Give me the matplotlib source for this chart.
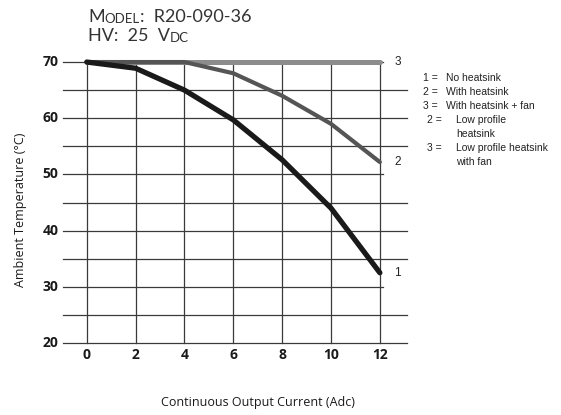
import matplotlib
matplotlib.use("Agg")
import matplotlib.pyplot as plt

# --- Derating data ---
current = [0, 2, 4, 6, 8, 10, 12]                      # Adc
no_heatsink = [70, 68.9, 65.0, 59.7, 52.6, 44.0, 32.5]  # curve 1
with_heatsink = [70, 70, 70, 68.0, 64.0, 59.0, 52.2]     # curve 2
heatsink_fan = [70, 70, 70, 70, 70, 70, 70]              # curve 3

curves = [heatsink_fan, with_heatsink, no_heatsink]
curve_ids = ["3", "2", "1"]
curve_colors = ["#8c8c8c", "#555555", "#1a1a1a"]
curve_widths = [3.6, 3.0, 3.8]

y_ticks = [20, 30, 40, 50, 60, 70]
grid_y = [20, 25, 30, 35, 40, 45, 50, 55, 60, 65, 70]
legend_lines = [("1 =", "No heatsink"), ("2 =", "With heatsink"),
                ("3 =", "With heatsink + fan")]
legend_extra = [("2 =", ["Low profile", "heatsink"]),
                ("3 =", ["Low profile heatsink", "with fan"])]

plt.rcParams["font.family"] = ["Open Sans", "DejaVu Sans"]

fig = plt.figure(figsize=(5.61, 4.15), dpi=100)
ax = fig.add_axes([0.112, 0.1735, 0.613, 0.677])
ax.set_xlim(-0.98, 13.1)
ax.set_ylim(20, 70)
ax.axis("off")

# grid: horizontal rules, shortened where a curve label sits
for y in grid_y:
    right = 12.12 if y in (70, 50, 30) else 13.1
    ax.plot([-0.98, right], [y, y], color="#3a3a3a", lw=0.9, clip_on=False, zorder=1)
for x in current:
    ax.plot([x, x], [20, 70], color="#3a3a3a", lw=0.9, clip_on=False, zorder=1)

for vals, cid, col, lw in zip(curves, curve_ids, curve_colors, curve_widths):
    ax.plot(current, vals, color=col, lw=lw, solid_capstyle="round",
            solid_joinstyle="round", clip_on=False, zorder=3)
    ax.text(12.6, vals[-1], cid, fontsize=8.5, color="#222222",
            family="Liberation Sans", va="center", ha="left")

# tick labels
for y in y_ticks:
    ax.text(-1.15, y, str(y), ha="right", va="center", fontsize=10,
            fontweight="bold", color="#1a1a1a")
for x in current:
    ax.text(x, 17.9, str(x), ha="center", va="center", fontsize=10,
            fontweight="bold", color="#1a1a1a")

fig.text(0.036, 0.495, "Ambient Temperature (°C)", rotation=90,
         ha="center", va="center", fontsize=9, color="#1a1a1a")
fig.text(0.46, 0.03, "Continuous Output Current (Adc)", ha="center",
         va="center", fontsize=9, color="#1a1a1a")

# header with small caps
def small_caps(x, y, parts):
    prev = None
    for txt, size in parts:
        if prev is None:
            prev = fig.text(x, y, txt, fontsize=size, color="#333333",
                            family="Lato", va="bottom")
        else:
            prev = ax.annotate(txt, xy=(1, 0), xycoords=prev, fontsize=size,
                               color="#333333", family="Lato", va="bottom",
                               annotation_clip=False)

small_caps(88 / 561, 0.94, [("M", 13), ("ODEL", 9.5), (":  R20-090-36", 13)])
small_caps(88 / 561, 0.894, [("HV:  25  V", 13), ("DC", 9.5)])

# legend notes
leg_font = dict(fontsize=7.5, family="Liberation Sans", color="#222222", va="center")
y0 = 1 - 78 / 415
dy = 14 / 415
for i, (num, label) in enumerate(legend_lines):
    fig.text(423 / 561, y0 - i * dy, num, **leg_font)
    fig.text(446 / 561, y0 - i * dy, label, **leg_font)
row = 3
for num, label_rows in legend_extra:
    fig.text(427 / 561, y0 - row * dy, num, **leg_font)
    for j, lab in enumerate(label_rows):
        fig.text(456 / 561, y0 - (row + j) * dy, lab, **leg_font)
    row += len(label_rows)

fig.savefig("out.png", dpi=100)
